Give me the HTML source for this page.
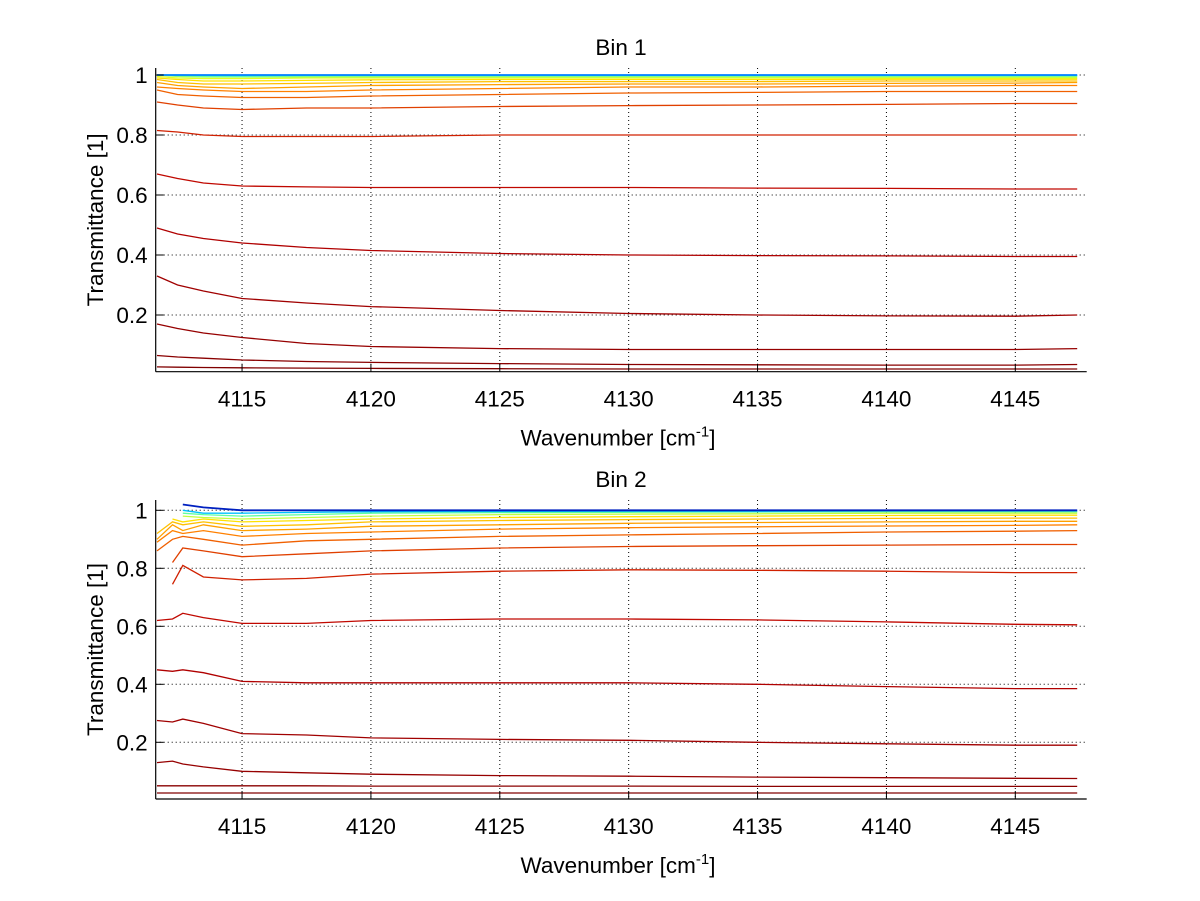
<!DOCTYPE html>
<html><head><meta charset="utf-8"><style>
html,body{margin:0;padding:0;background:#fff;}
svg{display:block;font-family:"Liberation Sans",Arial,sans-serif;}
</style></head><body>
<svg id="chart" width="1200" height="901" viewBox="0 0 1200 901" xmlns="http://www.w3.org/2000/svg"></svg>
<script>
const xTicks = [4115, 4120, 4125, 4130, 4135, 4140, 4145];
const yTicks = [0.2, 0.4, 0.6, 0.8, 1];
const yTickLabels = ["0.2", "0.4", "0.6", "0.8", "1"];
const knots1 = [4111.7, 4112.5, 4113.5, 4115, 4117.5, 4120, 4125, 4130, 4135, 4140, 4145, 4147.4];
const colors1 = ["#800000","#8a0000","#960000","#a00000","#b00000","#c00800","#d02000","#e04000","#f06000","#ff8000","#ffa000","#ffc000","#ffe000","#e0ff20","#a0ff60","#60ffa0","#20e0ff","#0080ff"];
const bin1Series = [
[0.027,0.026,0.025,0.024,0.023,0.022,0.021,0.02,0.02,0.02,0.02,0.02],
[0.065,0.06,0.056,0.05,0.045,0.042,0.038,0.035,0.034,0.033,0.033,0.035],
[0.17,0.155,0.14,0.125,0.105,0.095,0.088,0.085,0.085,0.085,0.085,0.088],
[0.33,0.3,0.28,0.255,0.24,0.228,0.215,0.205,0.2,0.197,0.196,0.2],
[0.49,0.47,0.455,0.44,0.425,0.415,0.405,0.4,0.398,0.397,0.395,0.395],
[0.67,0.655,0.64,0.63,0.627,0.625,0.625,0.625,0.623,0.622,0.62,0.62],
[0.815,0.81,0.8,0.795,0.795,0.795,0.8,0.8,0.8,0.8,0.8,0.8],
[0.91,0.9,0.89,0.885,0.89,0.89,0.895,0.898,0.9,0.902,0.905,0.905],
[0.95,0.935,0.93,0.925,0.925,0.93,0.935,0.94,0.942,0.945,0.945,0.945],
[0.96,0.955,0.95,0.945,0.945,0.95,0.955,0.96,0.96,0.963,0.965,0.965],
[0.975,0.965,0.96,0.955,0.96,0.965,0.968,0.97,0.97,0.972,0.973,0.975],
[0.985,0.975,0.97,0.97,0.972,0.975,0.978,0.978,0.978,0.98,0.98,0.98],
[0.99,0.985,0.98,0.98,0.982,0.984,0.985,0.985,0.985,0.986,0.986,0.986],
[0.995,0.99,0.988,0.988,0.99,0.99,0.99,0.99,0.99,0.99,0.99,0.99],
[1.0,0.995,0.993,0.993,0.994,0.994,0.994,0.994,0.994,0.994,0.994,0.994],
[1.0,0.998,0.996,0.996,0.997,0.997,0.997,0.997,0.997,0.997,0.997,0.997],
[1.0,1.0,0.999,0.998,0.999,0.999,0.999,0.999,0.999,0.999,0.999,0.999],
[1.0,1.0,1.0,1.0,1.0,1.0,1.0,1.0,1.0,1.0,1.0,1.0]
];
const knots2 = [4111.7, 4112.3, 4112.7, 4113.5, 4115, 4117.5, 4120, 4125, 4130, 4135, 4140, 4145, 4147.4];
const colors2 = ["#800000","#8a0000","#960000","#a00000","#b00000","#c00800","#d02000","#e04000","#f06000","#ff8000","#ffa000","#ffc000","#ffe000","#c0ff40","#60ffa0","#00c0ff","#0020c0"];
const bin2Series = [
[0.025,0.025,0.025,0.025,0.025,0.025,0.025,0.025,0.025,0.025,0.025,0.025,0.025],
[0.05,0.05,0.05,0.05,0.05,0.05,0.049,0.049,0.049,0.048,0.048,0.048,0.048],
[0.13,0.135,0.125,0.115,0.1,0.095,0.09,0.085,0.083,0.08,0.078,0.076,0.075],
[0.275,0.27,0.28,0.265,0.23,0.225,0.215,0.21,0.207,0.2,0.195,0.19,0.19],
[0.45,0.445,0.45,0.44,0.41,0.405,0.405,0.405,0.405,0.4,0.392,0.385,0.385],
[0.62,0.625,0.645,0.63,0.61,0.61,0.62,0.625,0.625,0.622,0.615,0.607,0.605],
[null,0.745,0.81,0.77,0.76,0.765,0.78,0.79,0.795,0.793,0.79,0.785,0.785],
[null,0.82,0.87,0.86,0.84,0.85,0.86,0.87,0.875,0.878,0.88,0.882,0.882],
[0.86,0.9,0.91,0.9,0.88,0.895,0.9,0.91,0.915,0.92,0.925,0.928,0.93],
[0.89,0.93,0.92,0.93,0.91,0.92,0.925,0.935,0.94,0.943,0.946,0.948,0.95],
[0.9,0.95,0.93,0.95,0.93,0.935,0.945,0.95,0.955,0.958,0.96,0.962,0.962],
[0.92,0.96,0.95,0.96,0.945,0.95,0.96,0.965,0.968,0.97,0.972,0.973,0.973],
[null,0.97,0.96,0.97,0.96,0.965,0.97,0.975,0.978,0.98,0.982,0.983,0.983],
[null,null,0.98,0.975,0.97,0.975,0.98,0.985,0.987,0.988,0.99,0.99,0.99],
[null,null,0.99,0.985,0.98,0.985,0.99,0.992,0.993,0.994,0.995,0.995,0.995],
[null,null,1.0,0.99,0.99,0.993,0.995,0.996,0.997,0.997,0.998,0.998,0.998],
[null,null,1.02,1.01,1.0,1.0,1.0,1.0,1.0,1.0,1.0,1.0,1.0]
];

const NS = "http://www.w3.org/2000/svg";
const svg = document.getElementById("chart");
function mk(tag, attrs, parent, text) {
  const e = document.createElementNS(NS, tag);
  for (const k in attrs) e.setAttribute(k, attrs[k]);
  if (text !== undefined) e.textContent = text;
  (parent || svg).appendChild(e);
  return e;
}
const X0 = 155.7, X1 = 1086.7, XMIN = 4111.65, XMAX = 4147.77;
function xs(v) { return X0 + (v - XMIN) / (XMAX - XMIN) * (X1 - X0); }
const FS = 22.5;

function panel(id, title, yTop, yBottom, yZero, yScale, knots, series, colors) {
  const ys = v => yZero - v * yScale;
  const g = mk("g", {}, svg);
  
  
  xTicks.forEach(t => {
    const l = mk("line", {x1: xs(t), x2: xs(t), y1: yTop, y2: yBottom, stroke: "#000", "stroke-width": 1, "stroke-dasharray": "1,3"}, g);
    
    
  });
  yTicks.forEach(t => {
    const l = mk("line", {x1: X0, x2: X1, y1: ys(t), y2: ys(t), stroke: "#000", "stroke-width": 1, "stroke-dasharray": "1,3"}, g);
    
    
  });
  series.forEach((vals, i) => {
    let pts = [];
    vals.forEach((v, j) => { if (v !== null) pts.push(xs(knots[j]).toFixed(1) + "," + ys(v).toFixed(1)); });
    const p = mk("polyline", {points: pts.join(" "), fill: "none", stroke: colors[i], "stroke-width": i === series.length - 1 ? 1.8 : 1.3}, g);
    
    
  });
  const ax = mk("line", {x1: X0, x2: X0, y1: yTop, y2: yBottom, stroke: "#000", "stroke-width": 1.2}, g);
  
  
  const bx = mk("line", {x1: X0, x2: X1, y1: yBottom, y2: yBottom, stroke: "#000", "stroke-width": 1.2}, g);
  
  
  xTicks.forEach(t => {
    const tk = mk("line", {x1: xs(t), x2: xs(t), y1: yBottom, y2: yBottom - 8, stroke: "#000"}, g);
    
    
    const tl = mk("text", {x: xs(t), y: yBottom + 35, "text-anchor": "middle", "font-size": FS}, g, String(t));
    
    
  });
  yTicks.forEach((t, i) => {
    const tk = mk("line", {x1: X0, x2: X0 + 8, y1: ys(t), y2: ys(t), stroke: "#000"}, g);
    
    
    const tl = mk("text", {x: X0 - 8, y: ys(t) + 8, "text-anchor": "end", "font-size": FS}, g, yTickLabels[i]);
    
    
  });
  const tt = mk("text", {x: 621, y: yTop - 13, "text-anchor": "middle", "font-size": FS}, g, title);
  
  
  const yc = (yTop + yBottom) / 2;
  const yl = mk("text", {x: 103, y: yc, "text-anchor": "middle", "font-size": FS, transform: "rotate(-90 103 " + yc + ")"}, g, "Transmittance [1]");
  
  
  const xl = mk("text", {x: 618, y: yBottom + 74, "text-anchor": "middle", "font-size": FS}, g);
  
  
  mk("tspan", {}, xl, "Wavenumber [cm");
  mk("tspan", {dy: -9, "font-size": 15}, xl, "-1");
  mk("tspan", {dy: 9}, xl, "]");
}
panel("bin1-panel", "Bin 1", 68, 371.7, 375, 300, knots1, bin1Series, colors1);
panel("bin2-panel", "Bin 2", 500, 799, 800.3, 290, knots2, bin2Series, colors2);
</script>
</body></html>
